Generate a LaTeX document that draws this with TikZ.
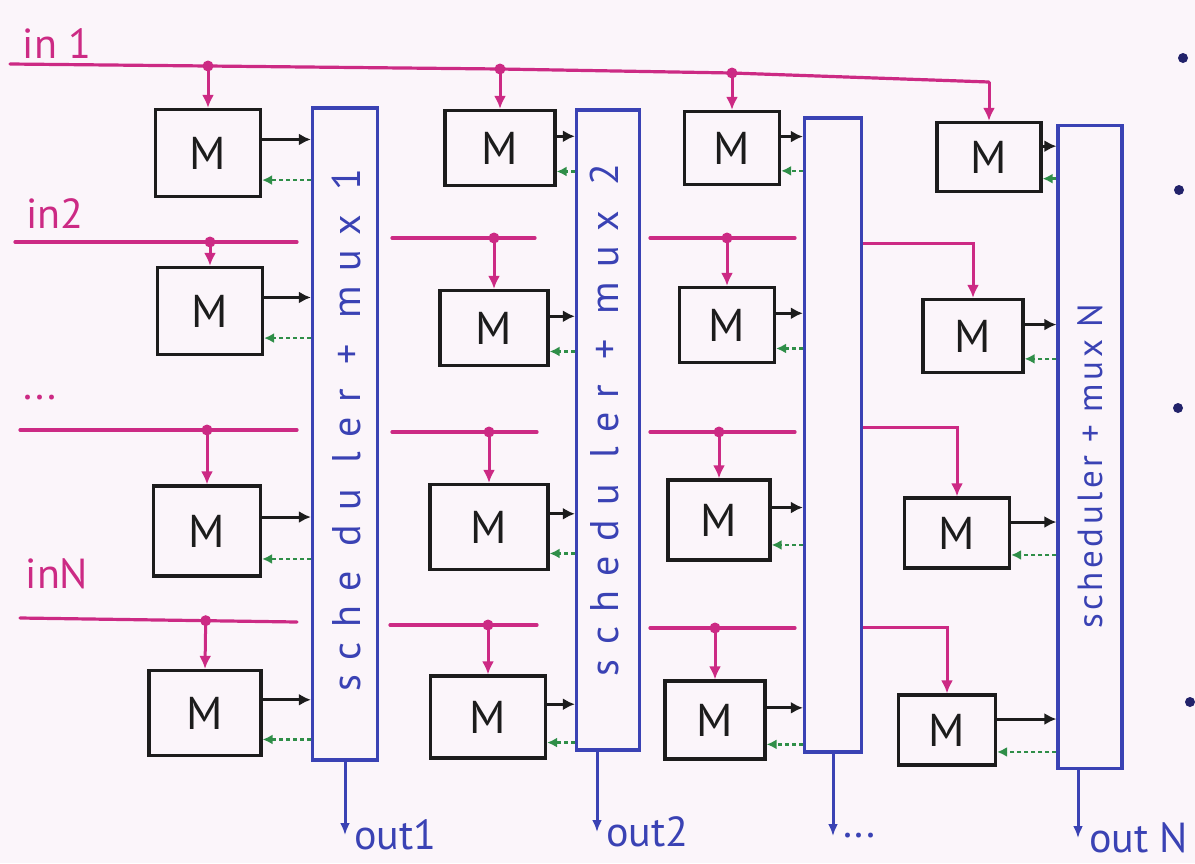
\documentclass[tikz,border=0pt]{standalone}
\usepackage{fontspec}
\setmainfont{PT Sans}
\newfontfamily\barfont[LetterSpace=36]{PT Sans}
\newfontfamily\barfontn[LetterSpace=10]{PT Sans}
\usetikzlibrary{arrows.meta,calc}
\definecolor{paper}{HTML}{FBF5FA}
\definecolor{pinkink}{HTML}{CC2A84}
\definecolor{blueink}{HTML}{3A42B4}
\definecolor{greenink}{HTML}{2F8E48}
\definecolor{blackink}{HTML}{1C1C1C}
\definecolor{dotink}{HTML}{22226A}
\begin{document}
\begin{tikzpicture}[x=1pt,y=-1pt,
  mbox/.style={draw=blackink,line width=3.2pt,inner sep=0pt,text=blackink,
    font=\fontsize{46}{46}\selectfont},
  bar/.style={draw=blueink,line width=3.2pt,inner sep=0pt},
  barlabel/.style={rotate=90,text=blueink,inner sep=0pt},
  feed/.style={draw=pinkink,line width=3.2pt,line cap=round},
  feedarrow/.style={draw=pinkink,line width=3pt,-{Latex[length=13pt,width=12pt]}},
  tapdot/.style={circle,fill=pinkink,inner sep=0pt,minimum size=11pt},
  datarrow/.style={draw=blackink,line width=3pt,-{Latex[length=12pt,width=12pt]}},
  backarrow/.style={draw=greenink,line width=2.6pt,dash pattern=on 4pt off 3pt,-{Latex[length=10pt,width=10pt]}},
  outarrow/.style={draw=blueink,line width=3pt,-{Latex[length=12pt,width=10pt]}},
  inlabel/.style={text=pinkink,inner sep=0pt,font=\fontsize{42}{42}\selectfont},
  outlabel/.style={text=blueink,inner sep=0pt,anchor=west,font=\fontsize{42}{42}\selectfont},
  bullet/.style={circle,fill=dotink,inner sep=0pt,minimum size=10pt}
]
\fill[paper] (0,0) rectangle (1195,863);
\useasboundingbox (0,0) rectangle (1195,863);

% scheduler + mux bars
\node[bar,minimum width=65pt,minimum height=652pt] (s1) at (345,434) {};
\node[bar,minimum width=63pt,minimum height=640pt] (s2) at (608,430) {};
\node[bar,minimum width=57pt,minimum height=634pt] (s3) at (833,435) {};
\node[bar,minimum width=64pt,minimum height=643pt] (s4) at (1090,447) {};
\node[barlabel,font=\barfont\fontsize{40}{40}\selectfont] (l1) at (346,430) {sche du ler + mux 1};
\node[barlabel,font=\barfont\fontsize{40}{40}\selectfont] (l2) at (604,420) {schedu ler + mux 2};
\node[barlabel,font=\barfontn\fontsize{35}{35}\selectfont] (l4) at (1090,466) {scheduler + mux N};

% memory boxes
\node[mbox,minimum width=105pt,minimum height=87pt] (m11) at (208,153) {M};
\node[mbox,minimum width=105pt,minimum height=87pt] (m12) at (210,311) {M};
\node[mbox,minimum width=107pt,minimum height=90pt] (m13) at (207,531) {M};
\node[mbox,minimum width=112pt,minimum height=85pt] (m14) at (205,713) {M};
\node[mbox,minimum width=110pt,minimum height=75pt] (m21) at (500,148) {M};
\node[mbox,minimum width=108pt,minimum height=75pt] (m22) at (494,328) {M};
\node[mbox,minimum width=118pt,minimum height=85pt] (m23) at (489,527) {M};
\node[mbox,minimum width=115pt,minimum height=82pt] (m24) at (488,717) {M};
\node[mbox,minimum width=95pt,minimum height=73pt] (m31) at (732,148) {M};
\node[mbox,minimum width=95pt,minimum height=75pt] (m32) at (727,325) {M};
\node[mbox,minimum width=102pt,minimum height=80pt] (m33) at (719,520) {M};
\node[mbox,minimum width=100pt,minimum height=78pt] (m34) at (715,720) {M};
\node[mbox,minimum width=104pt,minimum height=69pt] (m41) at (989,157) {M};
\node[mbox,minimum width=100pt,minimum height=73pt] (m42) at (973,336) {M};
\node[mbox,minimum width=105pt,minimum height=70pt] (m43) at (957,533) {M};
\node[mbox,minimum width=97pt,minimum height=70pt] (m44) at (947,730) {M};

% memory -> scheduler (black) and scheduler -> memory (green dashed)
\foreach \c in {1,2,3,4}{
  \foreach \r in {1,2,3,4}{
    \path (m\c\r.north east) -- (m\c\r.south east)
      coordinate[pos=0.35] (o\c\r) coordinate[pos=0.8] (i\c\r);
    \draw[datarrow] (o\c\r) -- (o\c\r -| s\c.west);
    \draw[backarrow] (i\c\r -| s\c.west) -- (i\c\r);
  }
}

% input labels
\node[inlabel] (in1) at (57,44) {in 1};
\node[inlabel] (in2) at (55,214) {in2};
\node[inlabel] (indots) at (40,398) {...};
\node[inlabel] (inN) at (57,574) {inN};

% input 1 bus
\coordinate (a1) at (10,64);
\coordinate (t11) at (m11.north |- 0,66);
\coordinate (t21) at (m21.north |- 0,69);
\coordinate (t31) at (m31.north |- 0,73);
\coordinate (c41) at (m41.north |- 0,82);
\draw[feed] (a1) -- (t11) -- (t21) -- (t31) -- (c41);
\draw[feedarrow] (c41) -- (m41.north);

% rows 2..4, columns 1..3 bus segments
\coordinate (a12) at (15,242);  \coordinate (b12) at (297,242);
\coordinate (a13) at (20,430);  \coordinate (b13) at (297,430);
\coordinate (a14) at (20,618);  \coordinate (b14) at (297,622);
\coordinate (a22) at (392,238); \coordinate (b22) at (535,238);
\coordinate (a23) at (392,432); \coordinate (b23) at (537,432);
\coordinate (a24) at (390,625); \coordinate (b24) at (537,625);
\coordinate (a32) at (650,238); \coordinate (b32) at (795,238);
\coordinate (a33) at (650,432); \coordinate (b33) at (795,432);
\coordinate (a34) at (650,628); \coordinate (b34) at (795,628);
\foreach \c in {1,2,3}{
  \foreach \r in {2,3,4}{
    \draw[feed] (a\c\r) -- (b\c\r);
    \coordinate (t\c\r) at ($(a\c\r)!(m\c\r.north)!(b\c\r)$);
  }
}
% taps
\foreach \c in {1,2,3}{
  \foreach \r in {1,2,3,4}{
    \draw[feedarrow] (t\c\r) -- (m\c\r.north);
    \node[tapdot] (d\c\r) at (t\c\r) {};
  }
}
% column 4 feeds from the right of the third block
\coordinate (c42) at (s3.east |- 0,243);
\coordinate (c43) at (s3.east |- 0,427);
\coordinate (c44) at (s3.east |- 0,627);
\draw[feedarrow] (c42) -| (m42.north);
\draw[feedarrow] (c43) -| (m43.north);
\draw[feedarrow] (c44) -| (m44.north);

% outputs
\node[outlabel] (out1) at (354,835) {out1};
\node[outlabel] (out2) at (606,832) {out2};
\node[outlabel] (outd) at (843,836) {...};
\node[outlabel] (outN) at (1089,838) {out N};
\draw[outarrow] (s1.south) -- (s1.south |- out1.west);
\draw[outarrow] ($(s2.south)+(-11,0)$) coordinate (e2) -- (e2 |- out2.west);
\draw[outarrow] (s3.south) -- (s3.south |- outd.west);
\draw[outarrow] ($(s4.south)+(-12,0)$) coordinate (e4) -- (e4 |- outN.west);

% right edge bullets
\node[bullet] (b1) at (1183,58) {};
\node[bullet] (b2) at (1179,190) {};
\node[bullet] (b3) at (1178,408) {};
\node[bullet] (b4) at (1190,702) {};
\end{tikzpicture}
\end{document}
